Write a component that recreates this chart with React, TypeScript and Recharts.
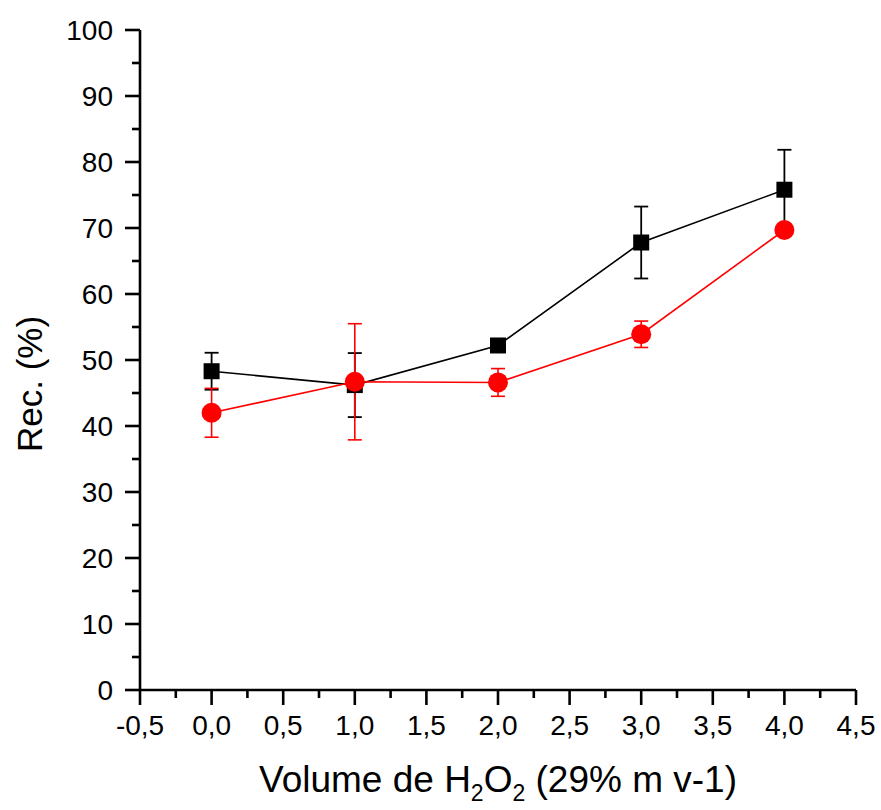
import React from 'react';
import { ComposedChart, Line, XAxis, YAxis, ErrorBar, Label } from 'recharts';

const xValues = [0, 1, 2, 3, 4];
const blackValues = [48.3, 46.2, 52.2, 67.8, 75.8];
const blackErrors = [2.8, 4.85, 0.8, 5.45, 6.05];
const redValues = [42.0, 46.7, 46.6, 53.9, 69.7];
const redErrors = [3.7, 8.8, 2.1, 2.0, 0.5];

const xMajorTicks = [-0.5, 0, 0.5, 1, 1.5, 2, 2.5, 3, 3.5, 4, 4.5];
const xMinorTicks = [-0.25, 0.25, 0.75, 1.25, 1.75, 2.25, 2.75, 3.25, 3.75, 4.25];
const yMajorTicks = [0, 10, 20, 30, 40, 50, 60, 70, 80, 90, 100];
const yMinorTicks = [5, 15, 25, 35, 45, 55, 65, 75, 85, 95];

const data = xValues.map((x, i) => ({
  x,
  black: blackValues[i],
  blackErr: blackErrors[i],
  red: redValues[i],
  redErr: redErrors[i],
}));

const FONT = '"Liberation Sans", Arial, sans-serif';
const xTicks = [...xMajorTicks, ...xMinorTicks].sort((a, b) => a - b);
const yTicks = [...yMajorTicks, ...yMinorTicks].sort((a, b) => a - b);

const isIn = (arr: number[], v: number) => arr.some((t) => Math.abs(t - v) < 1e-9);

const XTick = (props: any) => {
  const { x, y, payload } = props;
  const v = payload.value;
  const major = isIn(xMajorTicks, v);
  return (
    <g>
      <line x1={x} x2={x} y1={y} y2={y + (major ? 15 : 8)} stroke="#000" strokeWidth={2.6} />
      {major && (
        <text x={x} y={y + 45} textAnchor="middle" fontSize={28} fontFamily={FONT} fill="#000">
          {v.toFixed(1).replace('.', ',')}
        </text>
      )}
    </g>
  );
};

const YTick = (props: any) => {
  const { x, y, payload } = props;
  const v = payload.value;
  const major = isIn(yMajorTicks, v);
  return (
    <g>
      <line x1={x - (major ? 15 : 8)} x2={x} y1={y} y2={y} stroke="#000" strokeWidth={2.6} />
      {major && (
        <text x={x - 27} y={y} dy="0.36em" textAnchor="end" fontSize={28} fontFamily={FONT} fill="#000">
          {String(v)}
        </text>
      )}
    </g>
  );
};

const SquareDot = (props: any) => {
  const { cx, cy, index } = props;
  if (cx == null || cy == null) return <g key={`bs-${index}`} />;
  return <rect key={`bs-${index}`} x={cx - 8} y={cy - 8} width={16} height={16} fill="#000" />;
};

const CircleDot = (props: any) => {
  const { cx, cy, index } = props;
  if (cx == null || cy == null) return <g key={`rc-${index}`} />;
  return <circle key={`rc-${index}`} cx={cx} cy={cy} r={10} fill="#FF0000" />;
};

const XTitle = (props: any) => {
  const vb = props.viewBox || { x: 140, y: 690, width: 716, height: 120 };
  const cx = vb.x + vb.width / 2;
  const y = vb.y + 102;
  return (
    <text x={cx} y={y} textAnchor="middle" fontSize={37} fontFamily={FONT} fill="#000">
      Volume de H<tspan fontSize={23} dy={9}>2</tspan>
      <tspan dy={-9}>O</tspan>
      <tspan fontSize={23} dy={9}>2</tspan>
      <tspan dy={-9}> (29% m v-1)</tspan>
    </text>
  );
};

const YTitle = (props: any) => {
  const vb = props.viewBox || { x: 0, y: 30, width: 140, height: 660 };
  const x = vb.x + 42;
  const y = vb.y + vb.height / 2 + 24;
  return (
    <text
      x={x}
      y={y}
      transform={`rotate(-90, ${x}, ${y})`}
      textAnchor="middle"
      fontSize={35}
      fontFamily={FONT}
      fill="#000"
    >
      Rec. (%)
    </text>
  );
};

export default function App() {
  return (
    <div style={{ position: 'absolute', left: 0, top: 0, background: '#fff' }}>
      <ComposedChart width={881} height={810} data={data} margin={{ top: 30, right: 25, left: 0, bottom: 0 }}>
        <XAxis
          dataKey="x"
          type="number"
          domain={[-0.5, 4.5]}
          ticks={xTicks}
          interval={0}
          tickSize={0}
          tickMargin={0}
          tickLine={false}
          tick={<XTick />}
          axisLine={{ stroke: '#000', strokeWidth: 2.6 }}
          height={120}
        >
          <Label content={<XTitle />} />
        </XAxis>
        <YAxis
          type="number"
          domain={[0, 100]}
          ticks={yTicks}
          interval={0}
          tickSize={0}
          tickMargin={0}
          tickLine={false}
          tick={<YTick />}
          axisLine={{ stroke: '#000', strokeWidth: 2.6 }}
          width={140}
        >
          <Label content={<YTitle />} />
        </YAxis>
        <Line
          dataKey="black"
          stroke="#000"
          strokeWidth={1.6}
          dot={SquareDot}
          activeDot={false}
          isAnimationActive={false}
        >
          <ErrorBar dataKey="blackErr" width={7} stroke="#000" strokeWidth={1.8} direction="y" />
        </Line>
        <Line
          dataKey="red"
          stroke="#FF0000"
          strokeWidth={1.6}
          dot={CircleDot}
          activeDot={false}
          isAnimationActive={false}
        >
          <ErrorBar dataKey="redErr" width={7} stroke="#FF0000" strokeWidth={1.6} direction="y" />
        </Line>
      </ComposedChart>
    </div>
  );
}
